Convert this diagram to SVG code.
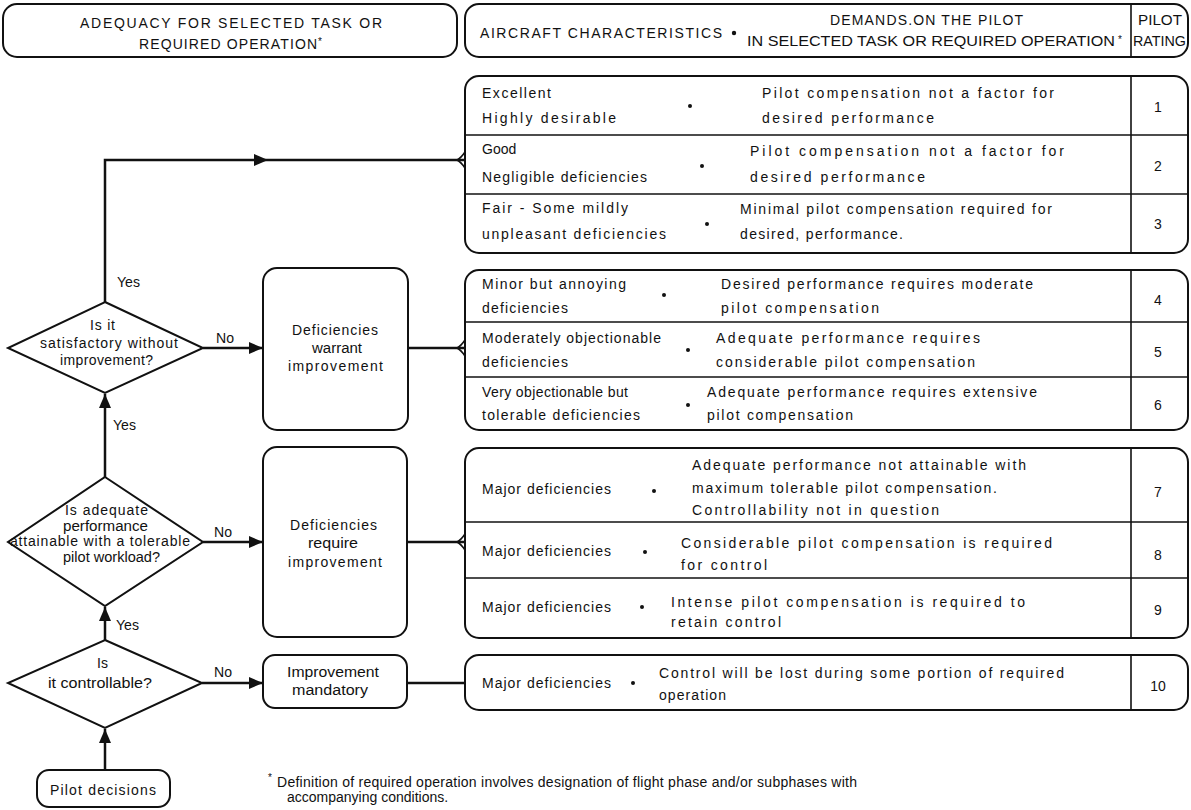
<svg xmlns="http://www.w3.org/2000/svg" width="1191" height="810" viewBox="0 0 1191 810">
<style>
text{font-family:"Liberation Sans",Arial,sans-serif;fill:#111}
.hd{font-size:14px}
.t{font-size:14px}
.sup{font-size:10px}
.n{font-size:14px;text-anchor:middle}
.box{fill:none;stroke:#111;stroke-width:2}
.ln{fill:none;stroke:#111;stroke-width:1.6}
.cn{fill:none;stroke:#111;stroke-width:2.5}
.dot{fill:#111}
</style>
<defs>
<marker id="ah" markerUnits="userSpaceOnUse" markerWidth="16" markerHeight="14" refX="14" refY="7" orient="auto">
<path d="M0,1 L14,7 L0,13 Z" fill="#111"/>
</marker>
</defs>

<g id="header-left">
<rect class="box" x="3" y="4" width="454" height="53" rx="14"/>
<text class="hd" x="80" y="28" textLength="302" lengthAdjust="spacing">ADEQUACY FOR SELECTED TASK OR</text>
<text class="hd" x="139" y="49" textLength="178" lengthAdjust="spacing">REQUIRED OPERATION</text>
<text class="sup" x="318" y="45">*</text>
</g>

<g id="header-right">
<rect class="box" x="465" y="4" width="723" height="53" rx="14"/>
<line class="ln" x1="1131" y1="4" x2="1131" y2="57"/>
<text class="hd" x="480" y="38" textLength="242" lengthAdjust="spacing">AIRCRAFT CHARACTERISTICS</text>
<circle class="dot" cx="734" cy="33" r="2.2"/>
<text class="hd" x="830" y="25" textLength="193" lengthAdjust="spacing">DEMANDS.ON THE PILOT</text>
<text class="hd" x="747" y="46" textLength="368" lengthAdjust="spacingAndGlyphs">IN SELECTED TASK OR REQUIRED OPERATION</text>
<text class="sup" x="1118" y="43">*</text>
<text class="hd" x="1138" y="25" textLength="44" lengthAdjust="spacingAndGlyphs">PILOT</text>
<text class="hd" x="1133" y="46" textLength="53" lengthAdjust="spacingAndGlyphs">RATING</text>
</g>

<g id="group-1-3">
<rect class="box" x="465" y="76" width="723" height="177" rx="14"/>
<line class="ln" x1="465" y1="135" x2="1188" y2="135"/>
<line class="ln" x1="465" y1="194" x2="1188" y2="194"/>
<line class="ln" x1="1131" y1="76" x2="1131" y2="253"/>
<text class="t" x="482" y="98" textLength="69" lengthAdjust="spacing">Excellent</text>
<text class="t" x="482" y="123" textLength="134" lengthAdjust="spacing">Highly desirable</text>
<circle class="dot" cx="690" cy="106" r="2"/>
<text class="t" x="762" y="98" textLength="292" lengthAdjust="spacing">Pilot compensation not a factor for</text>
<text class="t" x="762" y="123" textLength="172" lengthAdjust="spacing">desired performance</text>
<text class="n" x="1158" y="112">1</text>
<text class="t" x="482" y="154">Good</text>
<text class="t" x="482" y="182" textLength="165" lengthAdjust="spacing">Negligible deficiencies</text>
<circle class="dot" cx="702" cy="166" r="2"/>
<text class="t" x="750" y="156" textLength="314" lengthAdjust="spacing">Pilot compensation not a factor for</text>
<text class="t" x="750" y="182" textLength="175" lengthAdjust="spacing">desired performance</text>
<text class="n" x="1158" y="171">2</text>
<text class="t" x="482" y="213" textLength="146" lengthAdjust="spacing">Fair - Some mildly</text>
<text class="t" x="482" y="239" textLength="184" lengthAdjust="spacing">unpleasant deficiencies</text>
<circle class="dot" cx="707" cy="224" r="2"/>
<text class="t" x="740" y="214" textLength="312" lengthAdjust="spacing">Minimal pilot compensation required for</text>
<text class="t" x="740" y="239" textLength="163" lengthAdjust="spacing">desired, performance.</text>
<text class="n" x="1158" y="229">3</text>
</g>

<g id="group-4-6">
<rect class="box" x="465" y="270" width="723" height="160" rx="14"/>
<line class="ln" x1="465" y1="322" x2="1188" y2="322"/>
<line class="ln" x1="465" y1="377" x2="1188" y2="377"/>
<line class="ln" x1="1131" y1="270" x2="1131" y2="430"/>
<text class="t" x="482" y="289" textLength="144" lengthAdjust="spacing">Minor but annoying</text>
<text class="t" x="482" y="313" textLength="86" lengthAdjust="spacing">deficiencies</text>
<circle class="dot" cx="664" cy="295" r="2"/>
<text class="t" x="721" y="289" textLength="312" lengthAdjust="spacing">Desired performance requires moderate</text>
<text class="t" x="721" y="313" textLength="158" lengthAdjust="spacing">pilot compensation</text>
<text class="n" x="1158" y="305">4</text>
<text class="t" x="482" y="343" textLength="179" lengthAdjust="spacing">Moderately objectionable</text>
<text class="t" x="482" y="367" textLength="86" lengthAdjust="spacing">deficiencies</text>
<circle class="dot" cx="688" cy="350" r="2"/>
<text class="t" x="716" y="343" textLength="264" lengthAdjust="spacing">Adequate performance requires</text>
<text class="t" x="716" y="367" textLength="259" lengthAdjust="spacing">considerable pilot compensation</text>
<text class="n" x="1158" y="357">5</text>
<text class="t" x="482" y="397" textLength="146" lengthAdjust="spacing">Very objectionable but</text>
<text class="t" x="482" y="420" textLength="158" lengthAdjust="spacing">tolerable deficiencies</text>
<circle class="dot" cx="688" cy="405" r="2"/>
<text class="t" x="707" y="397" textLength="330" lengthAdjust="spacing">Adequate performance requires extensive</text>
<text class="t" x="707" y="420" textLength="146" lengthAdjust="spacing">pilot compensation</text>
<text class="n" x="1158" y="410">6</text>
</g>

<g id="group-7-9">
<rect class="box" x="465" y="448" width="723" height="190" rx="14"/>
<line class="ln" x1="465" y1="522" x2="1188" y2="522"/>
<line class="ln" x1="465" y1="578" x2="1188" y2="578"/>
<line class="ln" x1="1131" y1="448" x2="1131" y2="638"/>
<text class="t" x="482" y="494" textLength="129" lengthAdjust="spacing">Major deficiencies</text>
<circle class="dot" cx="654" cy="491" r="2"/>
<text class="t" x="692" y="470" textLength="334" lengthAdjust="spacing">Adequate performance not attainable with</text>
<text class="t" x="692" y="493" textLength="305" lengthAdjust="spacing">maximum tolerable pilot compensation.</text>
<text class="t" x="692" y="515" textLength="247" lengthAdjust="spacing">Controllability not in question</text>
<text class="n" x="1158" y="497">7</text>
<text class="t" x="482" y="556" textLength="129" lengthAdjust="spacing">Major deficiencies</text>
<circle class="dot" cx="645" cy="552" r="2"/>
<text class="t" x="681" y="548" textLength="371" lengthAdjust="spacing">Considerable pilot compensation is required</text>
<text class="t" x="681" y="570" textLength="86" lengthAdjust="spacing">for control</text>
<text class="n" x="1158" y="560">8</text>
<text class="t" x="482" y="612" textLength="129" lengthAdjust="spacing">Major deficiencies</text>
<circle class="dot" cx="642" cy="607" r="2"/>
<text class="t" x="671" y="607" textLength="354" lengthAdjust="spacing">Intense pilot compensation is required to</text>
<text class="t" x="671" y="627" textLength="110" lengthAdjust="spacing">retain control</text>
<text class="n" x="1158" y="615">9</text>
</g>

<g id="group-10">
<rect class="box" x="465" y="655" width="723" height="55" rx="14"/>
<line class="ln" x1="1131" y1="655" x2="1131" y2="710"/>
<text class="t" x="482" y="688" textLength="129" lengthAdjust="spacing">Major deficiencies</text>
<circle class="dot" cx="633" cy="683" r="2"/>
<text class="t" x="659" y="678" textLength="405" lengthAdjust="spacing">Control will be lost during some portion of required</text>
<text class="t" x="659" y="700" textLength="67" lengthAdjust="spacing">operation</text>
<text class="n" x="1158" y="691">10</text>
</g>

<g id="q-satisfactory">
<polygon class="box" points="105,302 203,348 105,393 8,348"/>
<text class="t" x="90" y="330" textLength="25" lengthAdjust="spacing">Is it</text>
<text class="t" x="40" y="348" textLength="138" lengthAdjust="spacing">satisfactory without</text>
<text class="t" x="60" y="365" textLength="93" lengthAdjust="spacing">improvement?</text>
</g>

<g id="q-adequate">
<polygon class="box" points="105,477 203,542 105,606 8,542"/>
<text class="t" x="65" y="515" textLength="83" lengthAdjust="spacing">Is adequate</text>
<text class="t" x="63" y="531" textLength="85" lengthAdjust="spacingAndGlyphs">performance</text>
<text class="t" x="10" y="546" textLength="180" lengthAdjust="spacing">attainable with a tolerable</text>
<text class="t" x="63" y="562" textLength="97" lengthAdjust="spacingAndGlyphs">pilot workload?</text>
</g>

<g id="q-controllable">
<polygon class="box" points="105,640 202,683 105,728 8,683"/>
<text class="t" x="97" y="668">Is</text>
<text class="t" x="48" y="688" textLength="104" lengthAdjust="spacingAndGlyphs">it controllable?</text>
</g>

<g id="box-warrant">
<rect class="box" x="263" y="268" width="145" height="162" rx="14"/>
<text class="t" x="292" y="335" textLength="86" lengthAdjust="spacing">Deficiencies</text>
<text class="t" x="312" y="353" textLength="50" lengthAdjust="spacingAndGlyphs">warrant</text>
<text class="t" x="288" y="371" textLength="95" lengthAdjust="spacing">improvement</text>
</g>

<g id="box-require">
<rect class="box" x="263" y="447" width="144" height="190" rx="14"/>
<text class="t" x="290" y="530" textLength="87" lengthAdjust="spacing">Deficiencies</text>
<text class="t" x="308" y="548" textLength="50" lengthAdjust="spacingAndGlyphs">require</text>
<text class="t" x="288" y="567" textLength="94" lengthAdjust="spacing">improvement</text>
</g>

<g id="box-mandatory">
<rect class="box" x="263" y="655" width="144" height="53" rx="12"/>
<text class="t" x="287" y="677" textLength="92" lengthAdjust="spacingAndGlyphs">Improvement</text>
<text class="t" x="292" y="695" textLength="76" lengthAdjust="spacingAndGlyphs">mandatory</text>
</g>

<g id="box-pilot-decisions">
<rect class="box" x="37" y="770" width="133" height="37" rx="12"/>
<text class="t" x="50" y="795" textLength="106" lengthAdjust="spacing">Pilot decisions</text>
</g>

<g id="connectors">
<path class="cn" d="M105,302 V160 H465"/>
<polygon points="254,154 268,160 254,166" fill="#111"/>
<line class="cn" x1="105" y1="477" x2="105" y2="394" marker-end="url(#ah)"/>
<line class="cn" x1="105" y1="640" x2="105" y2="607" marker-end="url(#ah)"/>
<line class="cn" x1="105" y1="770" x2="105" y2="729" marker-end="url(#ah)"/>
<line class="cn" x1="203" y1="348" x2="263" y2="348" marker-end="url(#ah)"/>
<line class="cn" x1="203" y1="542" x2="263" y2="542" marker-end="url(#ah)"/>
<line class="cn" x1="202" y1="683" x2="263" y2="683" marker-end="url(#ah)"/>
<line class="cn" x1="408" y1="348" x2="465" y2="348"/>
<line class="cn" x1="407" y1="542" x2="465" y2="542"/>
<line class="cn" x1="407" y1="683" x2="465" y2="683"/>
<path class="ln" d="M465,152 Q461,158 457,160 Q461,162 465,168"/>
<path class="ln" d="M465,340 Q461,346 457,348 Q461,350 465,356"/>
<path class="ln" d="M465,534 Q461,540 457,542 Q461,544 465,550"/>
<text class="t" x="117" y="287" textLength="23" lengthAdjust="spacingAndGlyphs">Yes</text>
<text class="t" x="113" y="430" textLength="23" lengthAdjust="spacingAndGlyphs">Yes</text>
<text class="t" x="116" y="630" textLength="23" lengthAdjust="spacingAndGlyphs">Yes</text>
<text class="t" x="216" y="343" textLength="18" lengthAdjust="spacingAndGlyphs">No</text>
<text class="t" x="214" y="537" textLength="18" lengthAdjust="spacingAndGlyphs">No</text>
<text class="t" x="214" y="677" textLength="18" lengthAdjust="spacingAndGlyphs">No</text>
</g>

<g id="footnote">
<text class="sup" x="268" y="781">*</text>
<text class="t" x="277" y="787" textLength="580" lengthAdjust="spacing">Definition of required operation involves designation of flight phase and/or subphases with</text>
<text class="t" x="287" y="802">accompanying conditions.</text>
</g>
</svg>
